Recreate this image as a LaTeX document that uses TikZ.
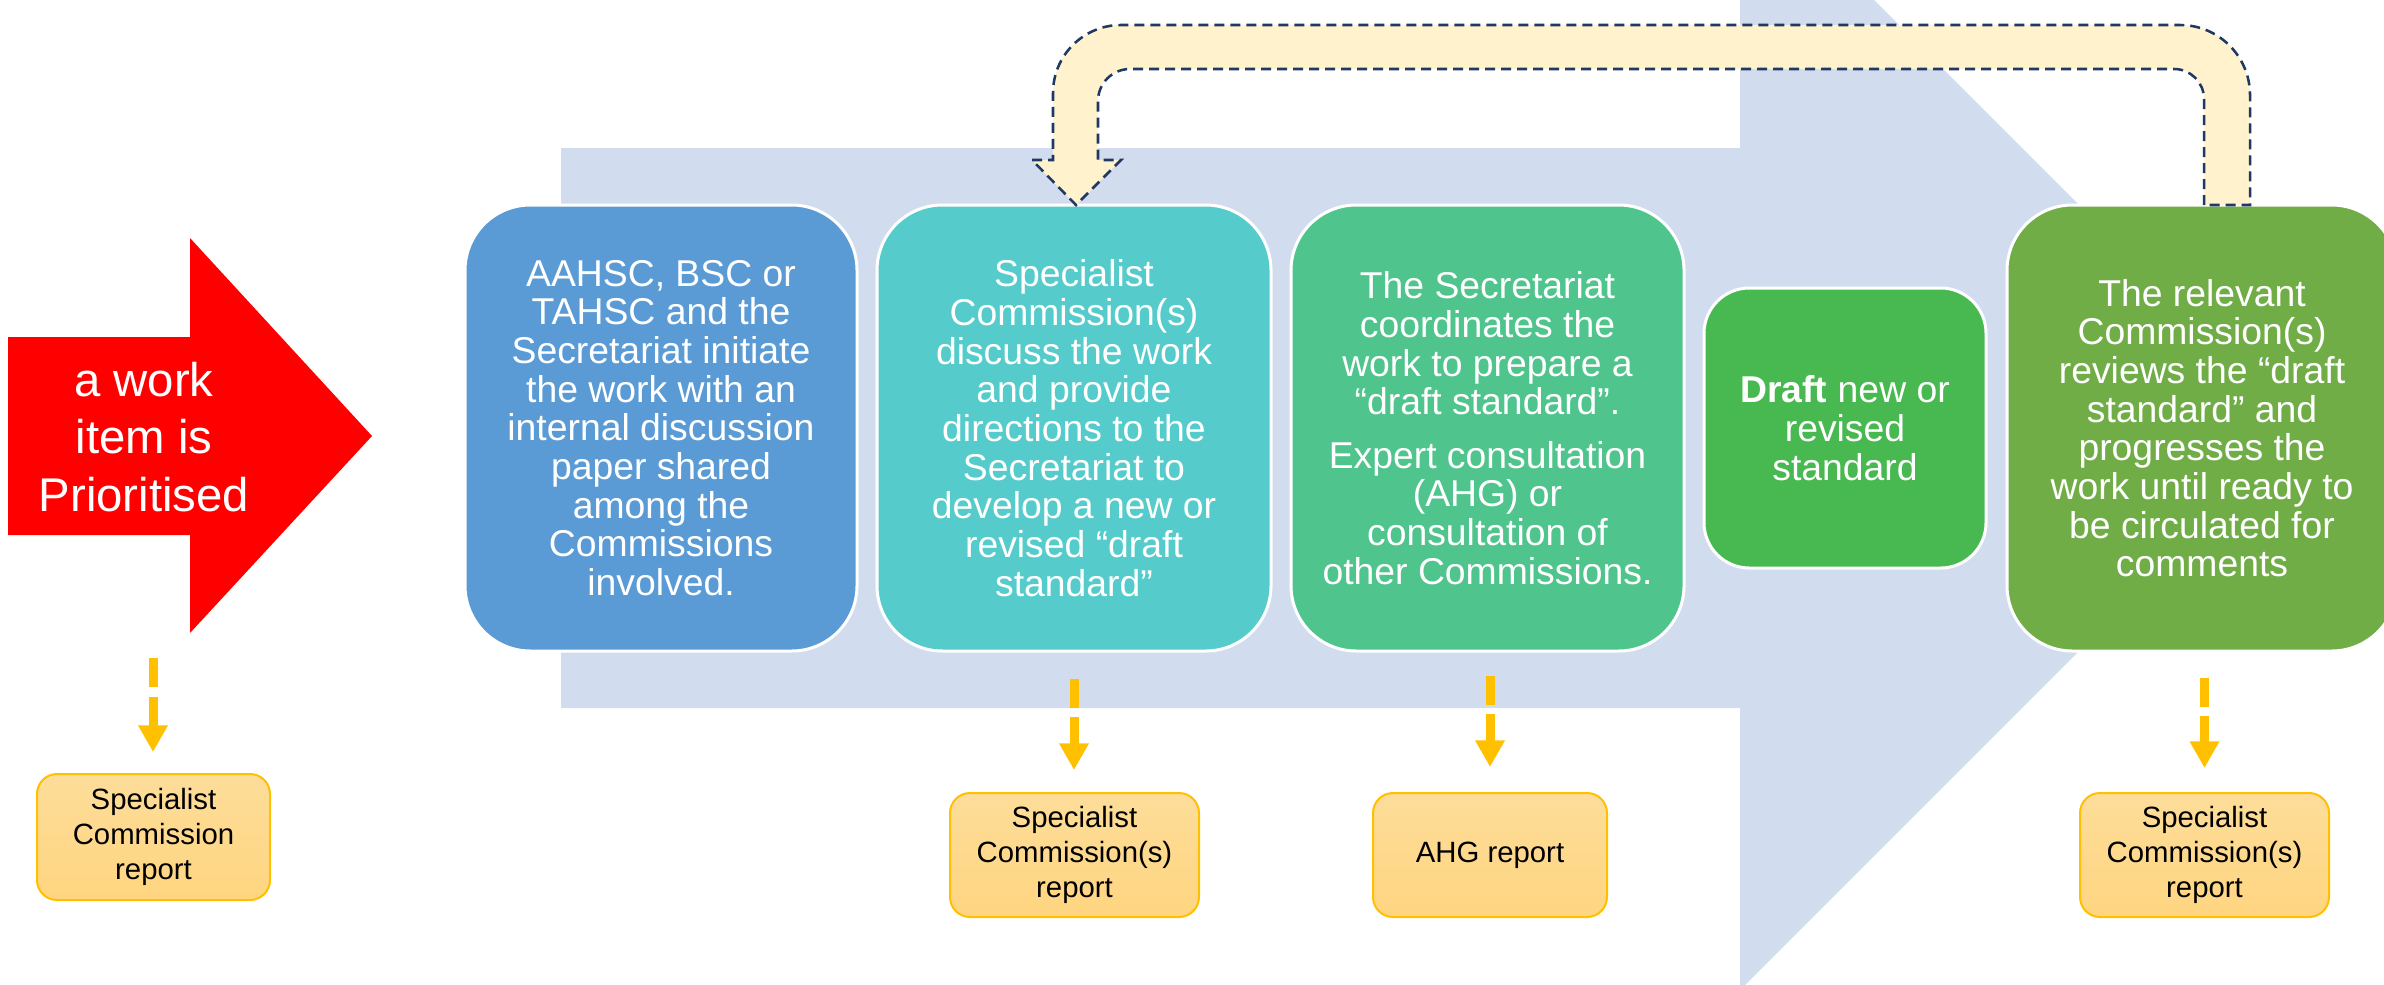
\documentclass[tikz,border=0pt]{standalone}
\usepackage{fontspec}
\setmainfont{Liberation Sans}
\usetikzlibrary{arrows.meta}
\definecolor{bigarrow}{RGB}{209,221,239}
\definecolor{cA}{RGB}{91,155,213}
\definecolor{cB}{RGB}{85,203,203}
\definecolor{cC}{RGB}{80,196,141}
\definecolor{cD}{RGB}{72,185,80}
\definecolor{cE}{RGB}{112,173,71}
\definecolor{navy}{RGB}{32,56,100}
\definecolor{fbfill}{RGB}{255,242,204}
\definecolor{gold}{RGB}{255,192,0}
\definecolor{reptop}{RGB}{253,221,154}
\definecolor{repbot}{RGB}{255,213,128}
\begin{document}
\begin{tikzpicture}[x=0.75pt,y=-0.75pt,
  stage/.style={draw=white, line width=2.25pt, rounded corners=49pt, text=white, align=center, inner sep=0pt, font=\fontsize{28}{29}\selectfont},
  report/.style={draw=gold, line width=1.5pt, rounded corners=15pt, top color=reptop, bottom color=repbot, align=center, inner sep=0pt, font=\fontsize{22}{26}\selectfont, text=black},
  yarrow/.style={draw=gold, line width=6.75pt, dash pattern=on 22pt off 7pt, -{Triangle[width=21pt,length=20pt]}},
  fback/.style={fill=fbfill, draw=navy, line width=1.9pt, dash pattern=on 7.5pt off 4.5pt}
]
\useasboundingbox (0,0) rectangle (2384,985);
\begin{scope}
\clip (0,0) rectangle (2384,985);
% big background arrow
\fill[bigarrow] (561,148) -- (1740,148) -- (1740,-134) -- (2302,428) -- (1740,990) -- (1740,708) -- (561,708) -- cycle;
% red arrow
\fill[red] (8,337) -- (190,337) -- (190,238) -- (372,436) -- (190,633) -- (190,535) -- (8,535) -- cycle;
\node[text=white, align=center, font=\fontsize{35.5}{43}\selectfont] (prio) at (144,437) {a work\\item is\\Prioritised};
% stage boxes
\node[stage, fill=cA, minimum width=294pt, minimum height=334.5pt] (b1) at (661,428)
  {AAHSC, BSC or\\TAHSC and the\\Secretariat initiate\\the work with an\\internal discussion\\paper shared\\among the\\Commissions\\involved.};
\node[stage, fill=cB, minimum width=295.5pt, minimum height=334.5pt] (b2) at (1074,428)
  {Specialist\\Commission(s)\\discuss the work\\and provide\\directions to the\\Secretariat to\\develop a new or\\revised “draft\\standard”};
\node[stage, fill=cC, minimum width=294.75pt, minimum height=334.5pt] (b3) at (1487.5,428)
  {The Secretariat\\coordinates the\\work to prepare a\\“draft standard”.\\[11pt]Expert consultation\\(AHG) or\\consultation of\\other Commissions.};
\node[stage, fill=cD, rounded corners=34pt, minimum width=211.5pt, minimum height=210pt] (b4) at (1845,428)
  {\textbf{Draft} new or\\revised\\standard};
\node[stage, fill=cE, minimum width=292.5pt, minimum height=334.5pt] (b5) at (2202,428)
  {The relevant\\Commission(s)\\reviews the “draft\\standard” and\\progresses the\\work until ready to\\be circulated for\\comments};
\end{scope}
% report boxes
\node[report, minimum width=174.75pt, minimum height=94.5pt] (r1) at (153.5,837) {Specialist\\Commission\\report};
\node[report, minimum width=186.75pt, minimum height=93pt] (r2) at (1074.5,855) {Specialist\\Commission(s)\\report};
\node[report, minimum width=175.5pt, minimum height=93pt] (r3) at (1490,855) {AHG report};
\node[report, minimum width=186.75pt, minimum height=93pt] (r4) at (2204.5,855) {Specialist\\Commission(s)\\report};
% yellow dashed arrows
\coordinate (a1) at (153,658);
\draw[yarrow, shorten >=15.75pt] (a1) -- (r1.north -| a1);
\draw[yarrow, shorten <=19.5pt, shorten >=16.5pt] (b2.south) -- (b2.south |- r2.north);
\draw[yarrow, shorten <=17.25pt, shorten >=18.75pt] (r3.north |- b3.south) -- (r3.north);
\draw[yarrow, shorten <=18.75pt, shorten >=18pt] (r4.north |- b5.south) -- (r4.north);
% feedback arrow
\path[fback] (2204,205) -- (2204,99) arc[start angle=0,end angle=90,radius=22.5pt]
  -- (1130,69) arc[start angle=90,end angle=180,radius=24pt]
  -- (1098,160) -- (1121,160) -- (1076,205) -- (1032,160) -- (1053,160)
  -- (1053,93) arc[start angle=180,end angle=90,radius=51pt]
  -- (2180,25) arc[start angle=90,end angle=0,radius=52.5pt]
  -- (2250,205) -- cycle;
\end{tikzpicture}
\end{document}
